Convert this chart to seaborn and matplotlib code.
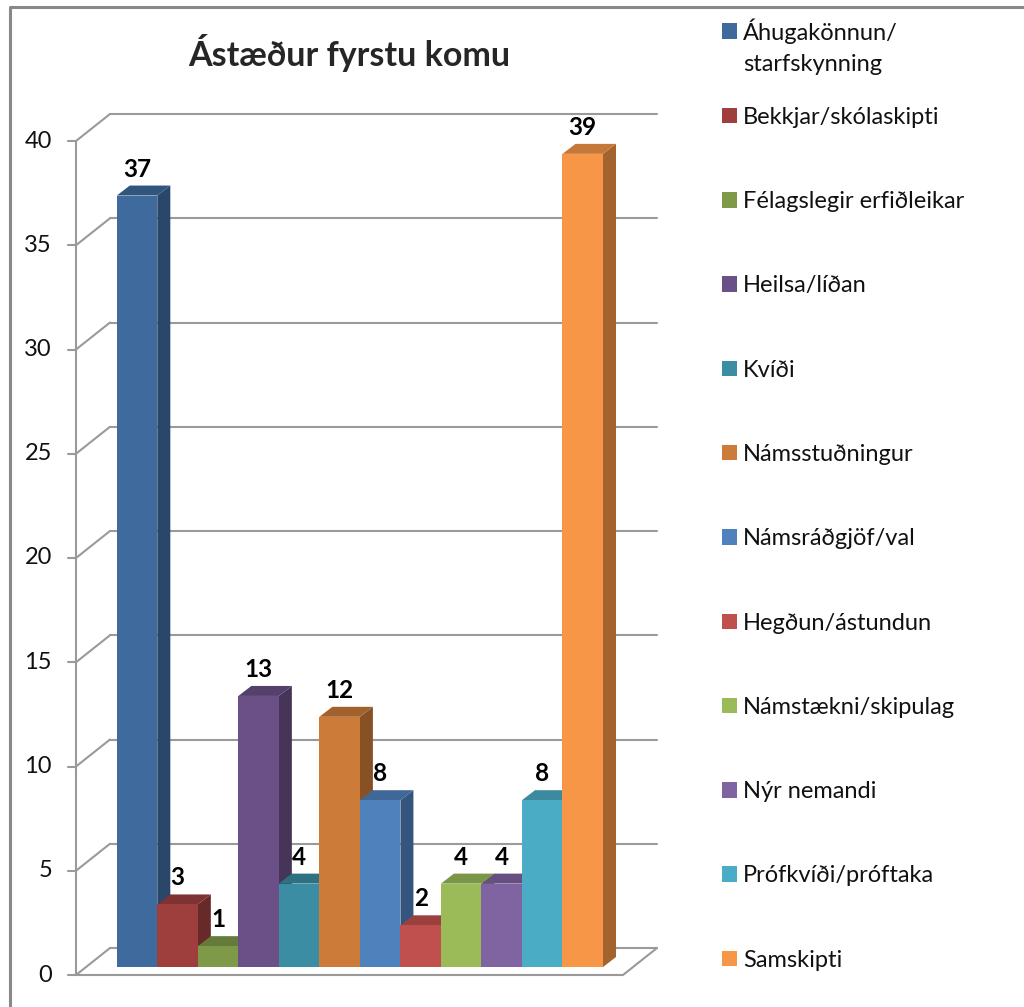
import matplotlib
matplotlib.use("Agg")
import matplotlib.pyplot as plt
import matplotlib.colors as mcolors
from matplotlib.patches import Polygon, Rectangle
from matplotlib.lines import Line2D
import seaborn as sns

categories = ['Áhugakönnun/starfskynning', 'Bekkjar/skólaskipti', 'Félagslegir erfiðleikar',
              'Heilsa/líðan', 'Kvíði', 'Námsstuðningur', 'Námsráðgjöf/val',
              'Hegðun/ástundun', 'Námstækni/skipulag', 'Nýr nemandi',
              'Prófkvíði/próftaka', 'Samskipti']
counts = [37, 3, 1, 13, 4, 12, 8, 2, 4, 4, 8, 39]
colors = ['#3F6A9E', '#9E3F3D', '#7E9A48', '#6A5087', '#3A8DA3', '#CC7B38',
          '#4F81BD', '#C0504D', '#9BBB59', '#8064A2', '#4BACC6', '#F79646']
yticks = [0, 5, 10, 15, 20, 25, 30, 35, 40]
title = 'Ástæður fyrstu komu'

sns.set_style('white')
plt.rcParams['font.family'] = ['Lato', 'DejaVu Sans']

W, H = 1024, 1007
fig = plt.figure(figsize=(W / 100, H / 100), dpi=100)
# axes = the plane of the bars' front faces
ax = fig.add_axes([86 / W, (H - 967) / H, 547 / W, 834 / H])
sns.barplot(x=categories, y=counts, hue=categories, palette=colors, width=1,
            saturation=1, legend=False, ax=ax)
ax.set_xlim(-1.26, 12.24)
ax.set_ylim(0, 40)
ax.set_axis_off()

def off(x, y, dx, dy):
    # shift a data point by dx, dy screen pixels (dy positive = down)
    px, py = ax.transData.transform((x, y))
    return ax.transData.inverted().transform((px + dx, py - dy))

FRONT = (-10, 8)   # front wall plane
BACK = (24, -19)   # back wall plane
DEPTH = (13, -10)  # bar depth

def shade(c, f):
    r, g, b = mcolors.to_rgb(c)
    return (r * f, g * f, b * f)

grid_kw = dict(color='#9a9a9a', lw=1.5, zorder=1, clip_on=False)
xl, xr = ax.get_xlim()
for v in yticks:
    a, b = off(xl, v, *BACK), off(xr, v, *BACK)
    ax.add_line(Line2D([a[0], b[0]], [a[1], b[1]], **grid_kw))
    f = off(xl, v, *FRONT)
    ax.add_line(Line2D([f[0], a[0]], [f[1], a[1]], **grid_kw))
    t = off(xl, v, FRONT[0] - 8, FRONT[1])
    ax.add_line(Line2D([t[0], f[0]], [t[1], f[1]], **grid_kw))
    lp = off(xl, v, FRONT[0] - 24, FRONT[1])
    ax.text(lp[0], lp[1], str(v), ha='right', va='center', fontsize=17, color='#111111')

f0, f1 = off(xl, 0, *FRONT), off(xr, 0, *FRONT)
b1 = off(xr, 0, *BACK)
ftop = off(xl, yticks[-1], *FRONT)
ax.add_line(Line2D([f0[0], f1[0], b1[0]], [f0[1], f1[1], b1[1]], **grid_kw))
ax.add_line(Line2D([f0[0], ftop[0]], [f0[1], ftop[1]], **grid_kw))

bars = sorted(ax.patches, key=lambda p: p.get_x())
for i, (bar, col, v) in enumerate(zip(bars, colors, counts)):
    x0, w, h = bar.get_x(), bar.get_width(), bar.get_height()
    bar.set_edgecolor('none')
    bar.set_zorder(10 + 3 * i + 2)
    side = [(x0 + w, 0), (x0 + w, h), off(x0 + w, h, *DEPTH), off(x0 + w, 0, *DEPTH)]
    top = [(x0, h), (x0 + w, h), off(x0 + w, h, *DEPTH), off(x0, h, *DEPTH)]
    ax.add_patch(Polygon(side, closed=True, fc=shade(col, 0.66), ec='none',
                         zorder=10 + 3 * i, clip_on=False))
    ax.add_patch(Polygon(top, closed=True, fc=shade(col, 0.8), ec='none',
                         zorder=10 + 3 * i + 1, clip_on=False))
    ax.annotate(str(v), (x0 + w / 2, h), xytext=(0, 19), textcoords='offset pixels',
                ha='center', va='baseline', fontsize=17.5, fontweight='bold',
                color='black', zorder=100, annotation_clip=False)

fig.text(349 / W, 1 - 53 / H, title, ha='center', va='center',
         fontsize=24.5, fontweight='bold')

# legend
lfs = 17
lpx = lfs * 100 / 72
first, rest = categories[0].split('/', 1)
labels = [first + '/'] + categories[1:]
handles = [Rectangle((0, 0), 1, 1, fc=c, ec='none') for c in colors]
leg = fig.legend(handles, labels, loc='upper left', bbox_to_anchor=(722 / W, 1 - 18 / H),
                 frameon=False, fontsize=lfs, borderpad=0, borderaxespad=0,
                 handlelength=15 / lpx, handleheight=15 / lpx, handletextpad=6 / lpx,
                 labelspacing=(86.2 - 0.97 * lpx) / lpx)
for t in leg.get_texts():
    t.set_color('#111111')
fig.canvas.draw()
ax.annotate(rest, xy=(0, 1), xycoords=leg.get_texts()[0], xytext=(0, -36),
            textcoords='offset pixels', ha='left', va='top', fontsize=lfs,
            color='#111111', annotation_clip=False)

# chart border
fig.add_artist(Line2D([10 / W, 10 / W, 1.01], [-0.01, 1 - 7 / H, 1 - 7 / H],
                      transform=fig.transFigure, color='#888888', lw=2.2))

fig.savefig('out.png', dpi=100)
